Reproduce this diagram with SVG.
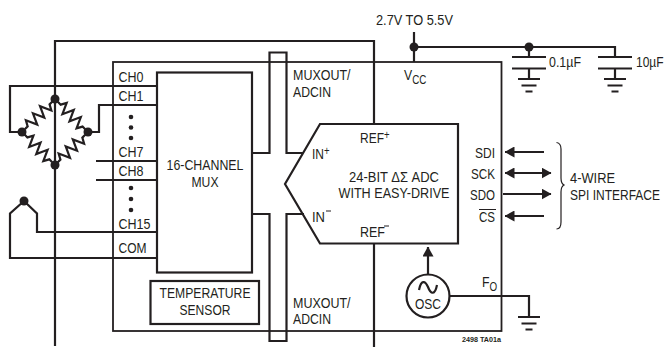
<svg xmlns="http://www.w3.org/2000/svg" xmlns:xlink="http://www.w3.org/1999/xlink" width="664" height="347" viewBox="0 0 664 347">
<style>
text{font-family:"Liberation Sans",Arial,sans-serif;font-size:15px;fill:#231f20}
.sub{font-size:12px}
.m{text-anchor:middle}
.l{fill:none;stroke:#231f20;stroke-width:2.200;stroke-linejoin:miter}
.t{fill:none;stroke:#231f20;stroke-width:1.200}
.d{fill:#231f20;stroke:none}
</style>
<defs>
<path id="res" class="l" d="M4,0 L8,0 L11,-5.500 L16,5.500 L21,-5.500 L26,5.500 L31,-5.500 L36,5.500 L39,0 L43,0"/>
<marker id="ah" viewBox="0 0 10 10" refX="9.500" refY="5" markerWidth="10" markerHeight="11" markerUnits="userSpaceOnUse" orient="auto-start-reverse" preserveAspectRatio="none"><path d="M0,0 L10,5 L0,10 Z" fill="#231f20"/></marker>
<g id="gnd"><path class="l" d="M-11,0H11M-7.500,6.500H7.500M-3.500,12.500H3.500"/></g>
</defs>
<g id="connectors">
<path class="l" d="M55,346V41H374V124"/>
<path class="l" d="M374,244V347"/>
<path class="l" d="M157,86H10V132H22"/>
<path class="l" d="M157,105H99V132H88"/>
<path class="l" d="M96,161H157M96,180H157"/>
<path class="l" d="M24,201L37,213.500V232H157"/>
<path class="l" d="M24,201L10,213.500V258H157"/>
<path class="l" d="M252,153H269.500V52.500H286.500V153H303"/>
<path class="l" d="M252,214H269.500V341H286.500V214H304"/>
<path class="l" d="M414,32V62M414,47H615V57"/>
<path class="l" d="M529,47V57M529,68V79M615,68V79"/>
<path class="l" d="M428,274V247" marker-end="url(#ah)"/>
<path class="l" d="M450,296H529V317"/>
<path class="l" d="M544,152H505" marker-end="url(#ah)"/>
<path class="l" d="M505,173H551" marker-start="url(#ah)" marker-end="url(#ah)"/>
<path class="l" d="M503,194H551" marker-end="url(#ah)"/>
<path class="l" d="M544,216H505" marker-end="url(#ah)"/>
<path class="t" d="M556.500,142.500C560,143 561,145 561,149V178C561,182 562,184 564,185C562,186 561,188 561,192V222C561,226 560,229 556.500,229"/>
</g>
<g id="chip"><rect x="113" y="62" width="388.500" height="269" fill="none" stroke="#231f20" stroke-width="1.800"/>
<text x="118.500" y="82" textLength="25" lengthAdjust="spacingAndGlyphs">CH0</text>
<text x="118.500" y="101" textLength="25" lengthAdjust="spacingAndGlyphs">CH1</text>
<text x="118.500" y="157" textLength="25" lengthAdjust="spacingAndGlyphs">CH7</text>
<text x="118.500" y="176" textLength="25" lengthAdjust="spacingAndGlyphs">CH8</text>
<text x="118.500" y="229" textLength="32" lengthAdjust="spacingAndGlyphs">CH15</text>
<text x="118.500" y="253" textLength="28" lengthAdjust="spacingAndGlyphs">COM</text>
<circle class="d" cx="131" cy="117" r="2.300"/><circle class="d" cx="131" cy="127.500" r="2.300"/><circle class="d" cx="131" cy="138" r="2.300"/>
<circle class="d" cx="131" cy="188" r="2.300"/><circle class="d" cx="131" cy="199" r="2.300"/><circle class="d" cx="131" cy="210" r="2.300"/>
<text x="293" y="80" textLength="57.500" lengthAdjust="spacingAndGlyphs">MUXOUT/</text>
<text x="293" y="97" textLength="38" lengthAdjust="spacingAndGlyphs">ADCIN</text>
<text x="293" y="308" textLength="57.500" lengthAdjust="spacingAndGlyphs">MUXOUT/</text>
<text x="293" y="324" textLength="38" lengthAdjust="spacingAndGlyphs">ADCIN</text>
<text transform="translate(404,80) scale(.82,1)">V<tspan class="sub" dy="4">CC</tspan></text>
<text x="495" y="158" text-anchor="end" textLength="20" lengthAdjust="spacingAndGlyphs">SDI</text>
<text x="495" y="179" text-anchor="end" textLength="24" lengthAdjust="spacingAndGlyphs">SCK</text>
<text x="495" y="200" text-anchor="end" textLength="25" lengthAdjust="spacingAndGlyphs">SDO</text>
<text x="495" y="222" text-anchor="end" textLength="16" lengthAdjust="spacingAndGlyphs">CS</text>
<path d="M479,209.500H496" stroke="#231f20" stroke-width="1"/>
<text transform="translate(482,287) scale(.82,1)">F<tspan class="sub" dy="4">O</tspan></text>
</g>
<g id="bridge">
<use xlink:href="#res" href="#res" transform="translate(55,99) rotate(45)"/>
<use xlink:href="#res" href="#res" transform="translate(88,132) rotate(135)"/>
<use xlink:href="#res" href="#res" transform="translate(55,165) rotate(225)"/>
<use xlink:href="#res" href="#res" transform="translate(22,132) rotate(315)"/>
<circle class="d" cx="55" cy="99" r="4.500"/><circle class="d" cx="88" cy="132" r="4.500"/><circle class="d" cx="55" cy="165" r="4.500"/><circle class="d" cx="22" cy="132" r="4.500"/>
</g>
<g id="thermocouple"><circle class="d" cx="24" cy="201" r="4.500"/></g>
<g id="mux"><rect class="l" x="157" y="72.500" width="95" height="200"/>
<text class="m" x="205" y="170" textLength="77" lengthAdjust="spacingAndGlyphs">16-CHANNEL</text>
<text class="m" x="205" y="187" textLength="27" lengthAdjust="spacingAndGlyphs">MUX</text></g>
<g id="temperature-sensor"><rect class="l" x="150.500" y="281" width="108.500" height="43"/>
<text class="m" x="205" y="298" textLength="91" lengthAdjust="spacingAndGlyphs">TEMPERATURE</text>
<text class="m" x="205" y="315" textLength="51" lengthAdjust="spacingAndGlyphs">SENSOR</text></g>
<g id="adc"><path class="l" d="M320,124H458V243.500H320L285,184Z"/>
<text transform="translate(360,143) scale(.8,1)">REF<tspan class="sub" dy="-4">+</tspan></text>
<text transform="translate(312,159) scale(.8,1)">IN<tspan class="sub" dy="-4">+</tspan></text>
<text x="312" y="222" textLength="13" lengthAdjust="spacingAndGlyphs">IN</text><path d="M326,211H331" stroke="#231f20" stroke-width="1"/>
<text x="360" y="237" textLength="25" lengthAdjust="spacingAndGlyphs">REF</text><path d="M384,226H389" stroke="#231f20" stroke-width="1"/>
<text class="m" x="394" y="182" textLength="90" lengthAdjust="spacingAndGlyphs">24-BIT ΔΣ ADC</text>
<text class="m" x="394" y="198" textLength="111" lengthAdjust="spacingAndGlyphs">WITH EASY-DRIVE</text></g>
<g id="osc"><circle class="l" cx="428" cy="296" r="21.500"/>
<path class="l" d="M419,290C421,280 425,280 428,287C431,295 435,295 437,285"/>
<text class="m" x="428" y="309" textLength="26" lengthAdjust="spacingAndGlyphs">OSC</text></g>
<g id="supply"><circle class="d" cx="414" cy="47" r="4.500"/><circle class="d" cx="529" cy="47" r="4.500"/>
<text x="376" y="25" textLength="77" lengthAdjust="spacingAndGlyphs">2.7V TO 5.5V</text></g>
<g id="cap1"><path class="l" d="M512,57H546M512,68.500H546"/><use xlink:href="#gnd" href="#gnd" x="529" y="79"/>
<text x="549" y="67" textLength="32" lengthAdjust="spacingAndGlyphs">0.1µF</text></g>
<g id="cap2"><path class="l" d="M598,57H632M598,68.500H632"/><use xlink:href="#gnd" href="#gnd" x="615" y="79"/>
<text transform="translate(636,67) scale(.8,1)">10µF</text></g>
<g id="ground-fo"><use xlink:href="#gnd" href="#gnd" x="529" y="317"/></g>
<g id="spi-label"><text x="570" y="183" textLength="45" lengthAdjust="spacingAndGlyphs">4-WIRE</text>
<text transform="translate(570,200) scale(.8,1)">SPI INTERFACE</text></g>
<g id="part-code"><text x="462" y="342" style="font-size:8px;font-weight:bold" textLength="39" lengthAdjust="spacingAndGlyphs">2498 TA01a</text></g>
</svg>
